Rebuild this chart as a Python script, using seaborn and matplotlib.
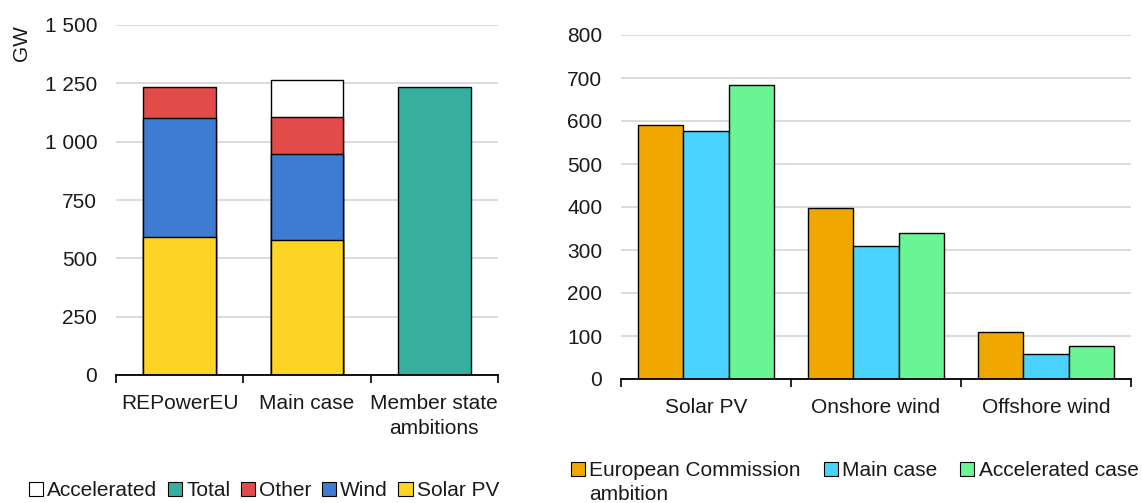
import numpy as np
import pandas as pd
import matplotlib
matplotlib.use("Agg")
import matplotlib.pyplot as plt
import seaborn as sns
from matplotlib.patches import Patch
from matplotlib.ticker import FuncFormatter, FixedLocator

# ---------------- data ----------------
left_categories = ["REPowerEU", "Main case", "Member state\nambitions"]
solar_pv = [592, 578, 0]
wind = [510, 368, 0]
other = [132, 158, 0]
accelerated = [0, 160, 0]
total = [0, 0, 1234]

right_categories = ["Solar PV", "Onshore wind", "Offshore wind"]
right_series = ["European Commission\nambition", "Main case", "Accelerated case"]
ec_ambition = [591, 398, 110]
main_case = [577, 309, 59]
accelerated_case = [683, 340, 77]

left_yticks = [0, 250, 500, 750, 1000, 1250, 1500]
right_yticks = [0, 100, 200, 300, 400, 500, 600, 700, 800]

# ---------------- style ----------------
sns.set_theme(style="white")
plt.rcParams["font.family"] = ["Liberation Sans", "DejaVu Sans"]
FS = 15
TXT = "#1a1a1a"

col_solar = "#FDD423"
col_wind = "#3E7BD3"
col_other = "#E34A4A"
col_accel = "#FFFFFF"
col_total = "#37AFA0"
col_ec = "#F0A800"
col_main = "#4AD3FF"
col_accel_case = "#6AF595"

fig = plt.figure(figsize=(11.42, 5.03), dpi=100)
ax1 = fig.add_axes([116 / 1142, 1 - 375 / 503, (498 - 116) / 1142, 350 / 503])
ax2 = fig.add_axes([621 / 1142, 1 - 379 / 503, (1131 - 621) / 1142, 344 / 503])

# ---------------- left: stacked bars ----------------
layers = [
    ("Solar PV", solar_pv, col_solar),
    ("Wind", wind, col_wind),
    ("Other", other, col_other),
    ("Accelerated", accelerated, col_accel),
    ("Total", total, col_total),
]
cum = np.cumsum(np.array([l[1] for l in layers], dtype=float), axis=0)
for i in reversed(range(len(layers))):
    name, vals, c = layers[i]
    cats = [cat for cat, v in zip(left_categories, vals) if v > 0]
    tops = [t for t, v in zip(cum[i], vals) if v > 0]
    if not cats:
        continue
    sns.barplot(x=cats, y=tops, order=left_categories, color=c,
                saturation=1, edgecolor="black", linewidth=1.0,
                width=0.57, errorbar=None, ax=ax1)

ax1.set_ylim(0, 1500)
ax1.yaxis.set_major_locator(FixedLocator(left_yticks))
ax1.yaxis.set_major_formatter(FuncFormatter(lambda v, p: f"{v:,.0f}".replace(",", " ")))
ax1.set_ylabel("GW", loc="top", fontsize=FS, color=TXT, labelpad=10)

# ---------------- right: grouped bars ----------------
rdf = pd.DataFrame({
    "category": right_categories * 3,
    "series": [right_series[0]] * 3 + [right_series[1]] * 3 + [right_series[2]] * 3,
    "value": ec_ambition + main_case + accelerated_case,
})
sns.barplot(data=rdf, x="category", y="value", hue="series",
            order=right_categories, hue_order=right_series,
            palette=[col_ec, col_main, col_accel_case], saturation=1,
            edgecolor="black", linewidth=1.0, errorbar=None, legend=False, ax=ax2)
ax2.set_ylim(0, 800)
ax2.yaxis.set_major_locator(FixedLocator(right_yticks))
ax2.set_ylabel("")

for ax in (ax1, ax2):
    ax.set_xlabel("")
    ax.set_xlim(-0.5, 2.5)
    ax.set_axisbelow(True)
    ax.yaxis.grid(True, color="#dcdcdc", linewidth=1.4)
    ax.xaxis.grid(False)
    for s in ("top", "right", "left"):
        ax.spines[s].set_visible(False)
    ax.spines["bottom"].set_color("black")
    ax.spines["bottom"].set_linewidth(1.3)
    ax.xaxis.set_minor_locator(FixedLocator([-0.5, 0.5, 1.5, 2.5]))
    ax.tick_params(axis="x", which="minor", length=6, width=1.2, color="black", direction="out", bottom=True)
    ax.tick_params(axis="x", which="major", length=0, pad=14, labelsize=FS, labelcolor=TXT)
    ax.tick_params(axis="y", length=0, pad=13.5, labelsize=FS, labelcolor=TXT)
    for lbl in ax.get_xticklabels():
        lbl.set_linespacing(1.35)

# ---------------- legends ----------------
lh = [Patch(facecolor=c, edgecolor="black", linewidth=0.8) for c in
      [col_accel, col_total, col_other, col_wind, col_solar]]
ll = ["Accelerated", "Total", "Other", "Wind", "Solar PV"]
fig.legend(lh, ll, loc="center left", bbox_to_anchor=(29 / 1142, 1 - 491 / 503),
           ncol=5, frameon=False, fontsize=FS, handlelength=0.68, handleheight=0.68,
           handletextpad=0.2, columnspacing=0.5, labelcolor=TXT, borderpad=0, borderaxespad=0)

# right legend: first series label spans two lines, second line placed as its own row
ec_lines = right_series[0].split("\n")
blank = Patch(facecolor="none", edgecolor="none")
rh = [Patch(facecolor=col_ec, edgecolor="black", linewidth=0.8), blank,
      Patch(facecolor=col_main, edgecolor="black", linewidth=0.8), blank,
      Patch(facecolor=col_accel_case, edgecolor="black", linewidth=0.8), blank]
rl = [ec_lines[0], ec_lines[1], right_series[1], "", right_series[2], ""]
fig.legend(rh, rl, loc="upper left", bbox_to_anchor=(571 / 1142, 1 - 461 / 503),
           ncol=3, frameon=False, fontsize=FS, handlelength=0.68, handleheight=0.68,
           handletextpad=0.2, columnspacing=1.1, labelspacing=0.22, labelcolor=TXT,
           borderpad=0, borderaxespad=0)

fig.savefig("out.png", dpi=100)
